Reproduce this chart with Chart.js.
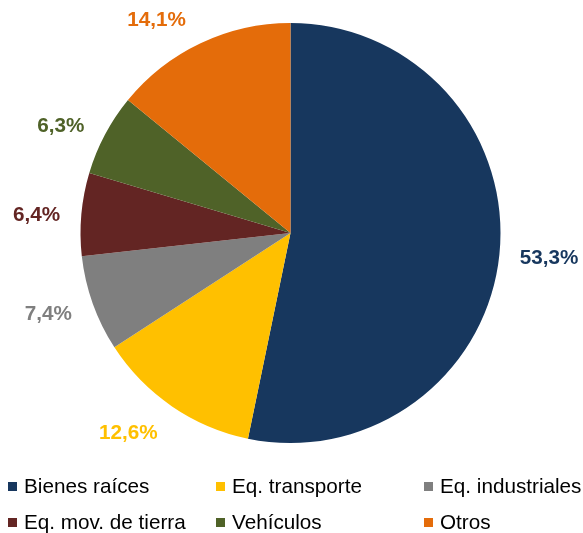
<!DOCTYPE html>
<html><head><meta charset="utf-8">
<script src="https://cdn.jsdelivr.net/npm/chart.js@4/dist/chart.umd.min.js"></script>
<style>html,body{margin:0;padding:0;background:#fff;}#wrap{width:583px;height:533px;}</style>
</head><body><div id="wrap"><canvas id="c" width="583" height="533"></canvas></div>
<script>
const categories = ["Bienes raíces","Eq. transporte","Eq. industriales","Eq. mov. de tierra","Vehículos","Otros"];
const shares = [53.3, 12.6, 7.4, 6.4, 6.3, 14.1];
const valueLabels = ["53,3%","12,6%","7,4%","6,4%","6,3%","14,1%"];
const colors = ["#17375E","#FFC000","#7F7F7F","#632523","#4F6228","#E46C0A"];

const labelPlugin = {
  id:'outLabels',
  afterDatasetsDraw(chart, args, opts){
    const ctx = chart.ctx;
    const meta = chart.getDatasetMeta(0);
    ctx.save();
    ctx.font = 'bold 20.7px "Liberation Sans", Arial, sans-serif';
    ctx.textAlign = 'center';
    ctx.textBaseline = 'middle';
    meta.data.forEach((arc,i)=>{
      const p = arc.getProps(['x','y','startAngle','endAngle','outerRadius'],true);
      const a = (p.startAngle+p.endAngle)/2;
      const r = p.outerRadius + opts.gap;
      const n = opts.nudge[i] || [0,0];
      ctx.fillStyle = colors[i];
      ctx.fillText(valueLabels[i], p.x + Math.cos(a)*r + n[0], p.y + Math.sin(a)*r + n[1]);
    });
    ctx.restore();
  }
};
const legendPlugin = {
  id:'colLegend',
  afterDraw(chart){
    const ctx = chart.ctx;
    ctx.save();
    ctx.font = '20.7px "Liberation Sans", Arial, sans-serif';
    ctx.textAlign = 'left';
    ctx.textBaseline = 'middle';
    const colX = [8,216,424], rowY = [486.5,522.5];
    categories.forEach((name,k)=>{
      const x = colX[k%3], y = rowY[Math.floor(k/3)];
      ctx.fillStyle = colors[k];
      ctx.fillRect(x, y-4.5, 9, 9);
      ctx.fillStyle = '#000';
      ctx.fillText(name, x+16, y+0.5);
    });
    ctx.restore();
  }
};

new Chart(document.getElementById('c'), {
  type:'pie',
  data:{labels:categories, datasets:[{data:shares, backgroundColor:colors, borderWidth:0}]},
  options:{
    responsive:false, animation:false,
    layout:{padding:{left:80.5,right:82.5,top:23,bottom:90}},
    plugins:{
      legend:{display:false}, tooltip:{enabled:false},
      outLabels:{gap:42, nudge:[[8,0],[-20,-8],[-5,-4],[-3,5],[-7,11],[-26,15]]}
    }
  },
  plugins:[labelPlugin, legendPlugin]
});
</script></body></html>
